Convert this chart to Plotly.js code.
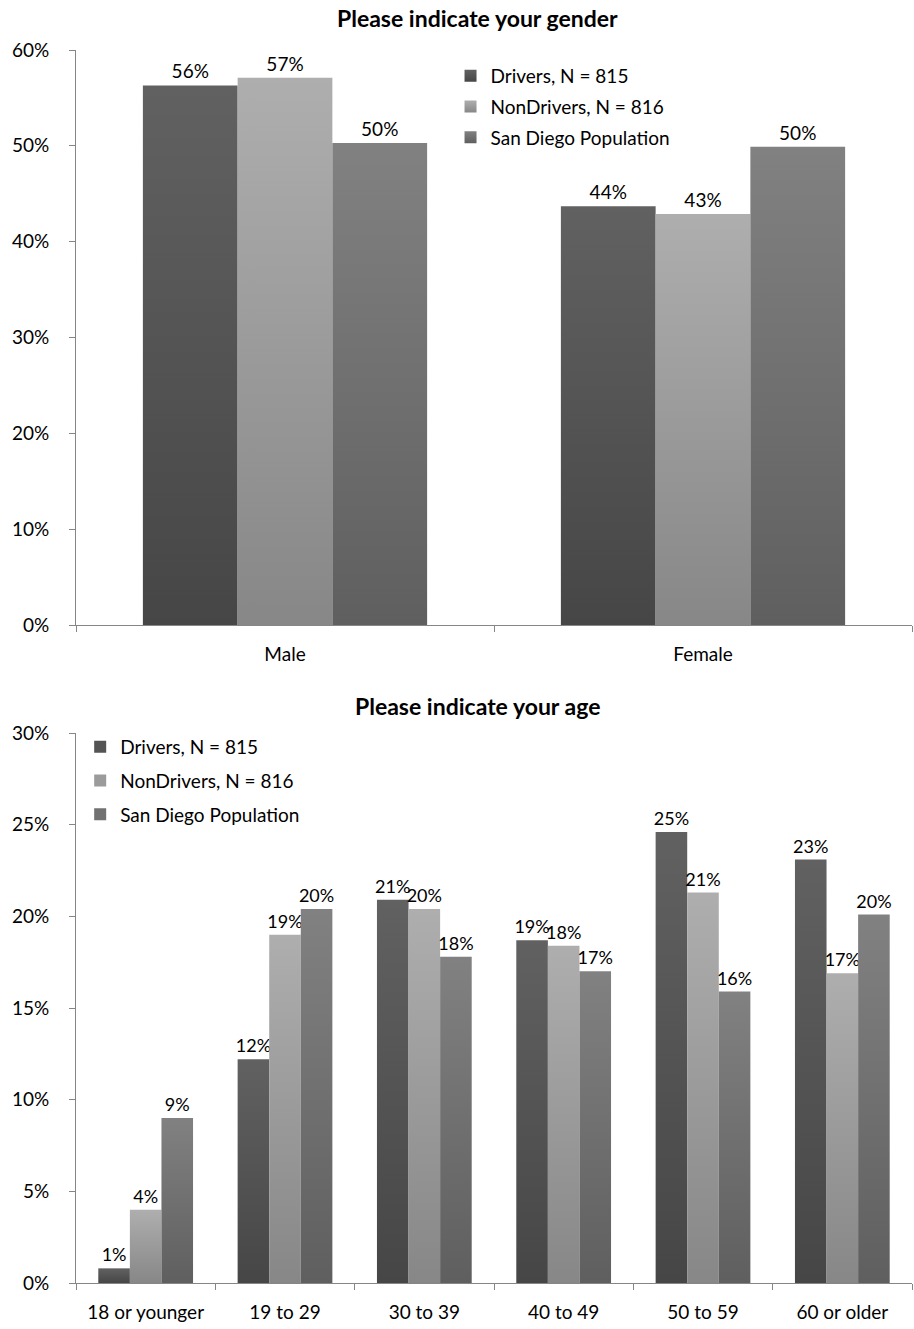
<!DOCTYPE html>
<html>
<head>
<meta charset="utf-8">
<script src="https://cdn.plot.ly/plotly-3.0.1.min.js"></script>
<style>html,body{margin:0;padding:0;background:#fff;}#chart{width:914px;height:1329px;}</style>
</head>
<body>
<div id="chart"></div>
<script>
// ---- data ----
const seriesNames = ["Drivers, N = 815", "NonDrivers, N = 816", "San Diego Population"];
const genderCats = ["Male", "Female"];
const genderDrivers = [0.563, 0.437];
const genderNonDrivers = [0.571, 0.429];
const genderSanDiego = [0.503, 0.499];
const ageCats = ["18 or younger", "19 to 29", "30 to 39", "40 to 49", "50 to 59", "60 or older"];
const ageDrivers = [0.008, 0.122, 0.209, 0.187, 0.246, 0.231];
const ageNonDrivers = [0.040, 0.190, 0.204, 0.184, 0.213, 0.169];
const ageSanDiego = [0.090, 0.204, 0.178, 0.170, 0.159, 0.201];
const yTicksGender = [0, 0.1, 0.2, 0.3, 0.4, 0.5, 0.6];
const yTicksAge = [0, 0.05, 0.1, 0.15, 0.2, 0.25, 0.3];

const colors = ["rgb(84, 84, 84)", "rgb(155, 155, 155)", "rgb(113, 113, 113)"];
const gradStops = [["#616161", "#464646"], ["#aeaeae", "#878787"], ["#818181", "#5f5f5f"]];
const FONT = "Lato, 'Open Sans', sans-serif";
const FS = 19;

function pct(v){ return v.map(x => Math.round(x*100) + "%"); }

const gSeries = [genderDrivers, genderNonDrivers, genderSanDiego];
const aSeries = [ageDrivers, ageNonDrivers, ageSanDiego];
const traces = [];
gSeries.forEach((vals, i) => {
  traces.push({type:"bar", x: genderCats, y: vals, name: seriesNames[i], xaxis:"x", yaxis:"y",
    marker:{color: colors[i]}, text: pct(vals), textposition:"outside", cliponaxis:false, constraintext:"none",
    textfont:{size:FS, color:"#000", family:FONT}, legend:"legend", legendgroup:"g"+i, hoverinfo:"skip"});
});
aSeries.forEach((vals, i) => {
  traces.push({type:"bar", x: ageCats, y: vals, name: seriesNames[i], xaxis:"x2", yaxis:"y2",
    marker:{color: colors[i]}, text: pct(vals), textposition:"outside", cliponaxis:false, constraintext:"none",
    textfont:{size:18, color:"#000", family:FONT}, legend:"legend2", legendgroup:"a"+i, hoverinfo:"skip"});
});

const H = 1329;
const axisCommon = {showgrid:false, zeroline:false, showline:true, linecolor:"#868686", linewidth:1,
  ticks:"outside", ticklen:6, tickcolor:"#868686", tickfont:{size:FS, color:"#000", family:FONT}};

const layout = {
  width:914, height:1329,
  margin:{l:76, r:2, t:0, b:0},
  paper_bgcolor:"#fff", plot_bgcolor:"#fff",
  font:{family:FONT, color:"#000"},
  barmode:"group",
  bargap:0.32, bargroupgap:0,
  showlegend:true,
  xaxis: Object.assign({}, axisCommon, {anchor:"y", domain:[0,1], type:"category", tickson:"boundaries", ticklabelstandoff:12}),
  yaxis: Object.assign({}, axisCommon, {anchor:"x", domain:[1-625/H, 1-50/H], range:[0,0.6], tickvals:yTicksGender, tickformat:".0%", ticklabelstandoff:16}),
  xaxis2: Object.assign({}, axisCommon, {anchor:"y2", domain:[0,1], type:"category", tickson:"boundaries", ticklabelstandoff:12}),
  yaxis2: Object.assign({}, axisCommon, {anchor:"x2", domain:[1-1283/H, 1-733/H], range:[0,0.3], tickvals:yTicksAge, tickformat:".0%", ticklabelstandoff:16}),
  legend:{x:0.448, xanchor:"left", y:1-57/H, yanchor:"top", bgcolor:"rgba(0,0,0,0)", font:{size:FS, family:FONT}, tracegroupgap:3, itemwidth:30},
  legend2:{x:0.005, xanchor:"left", y:1-728/H, yanchor:"top", bgcolor:"rgba(0,0,0,0)", font:{size:FS, family:FONT}, tracegroupgap:6, itemwidth:30},
  annotations:[
    {text:"<b>Please indicate your gender</b>", xref:"paper", yref:"paper", x:0.48, y:1-18/H, xanchor:"center", yanchor:"middle", showarrow:false, font:{size:23, family:FONT}},
    {text:"<b>Please indicate your age</b>", xref:"paper", yref:"paper", x:0.48, y:1-706/H, xanchor:"center", yanchor:"middle", showarrow:false, font:{size:23, family:FONT}}
  ]
};

Plotly.newPlot("chart", traces, layout, {staticPlot:true}).then(gd => {
  const svg = gd.querySelector("svg.main-svg");
  const ns = "http://www.w3.org/2000/svg";
  let defs = svg.querySelector("defs");
  if (!defs) { defs = document.createElementNS(ns, "defs"); svg.insertBefore(defs, svg.firstChild); }
  const map = {};
  gradStops.forEach((st, i) => {
    const lg = document.createElementNS(ns, "linearGradient");
    lg.setAttribute("id", "bargrad" + i);
    lg.setAttribute("x1", "0"); lg.setAttribute("y1", "0"); lg.setAttribute("x2", "0"); lg.setAttribute("y2", "1");
    [[0, st[0]], [1, st[1]]].forEach(([o, c]) => {
      const s = document.createElementNS(ns, "stop");
      s.setAttribute("offset", o); s.setAttribute("stop-color", c);
      lg.appendChild(s);
    });
    defs.appendChild(lg);
    map[colors[i].replace(/\s/g, "")] = "url(#bargrad" + i + ")";
  });
  gd.querySelectorAll(".barlayer path, .legend path").forEach(p => {
    const f = (p.style.fill || "").replace(/\s/g, "");
    if (map[f]) p.style.fill = map[f];
  });
});
</script>
</body>
</html>
